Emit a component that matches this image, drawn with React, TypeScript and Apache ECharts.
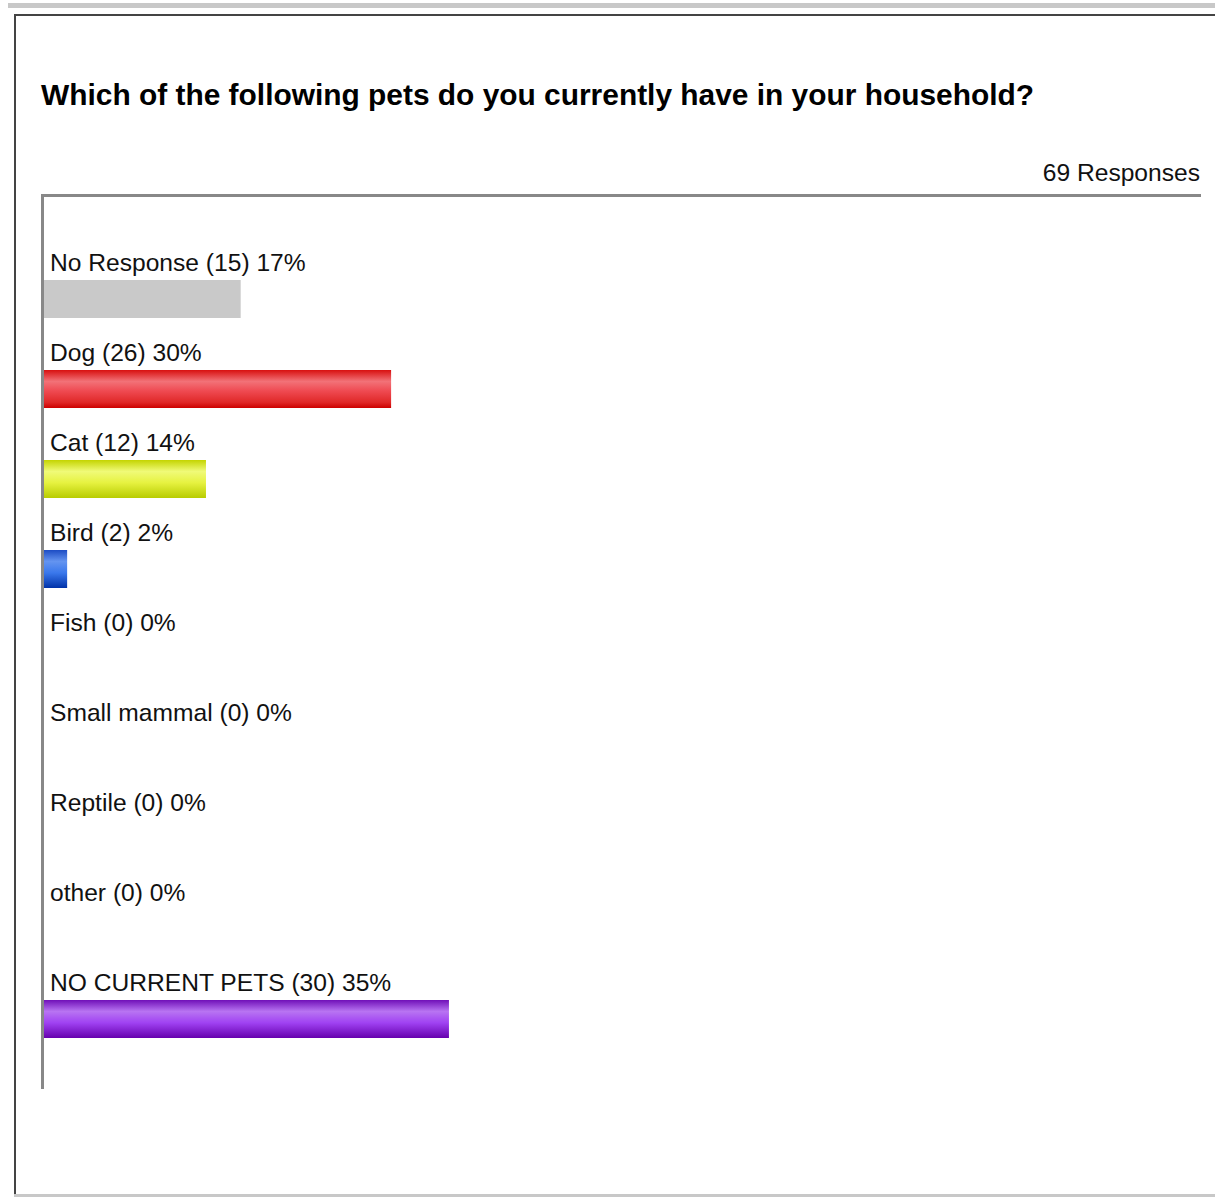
import React, { useEffect, useRef } from "react";
import * as echarts from "echarts";

const TITLE = "Which of the following pets do you currently have in your household?";
const RESPONSES = "69 Responses";
const categories = [
  "No Response",
  "Dog",
  "Cat",
  "Bird",
  "Fish",
  "Small mammal",
  "Reptile",
  "other",
  "NO CURRENT PETS",
];
const counts = [15, 26, 12, 2, 0, 0, 0, 0, 30];
const percents = [17, 30, 14, 2, 0, 0, 0, 0, 35];

const grad = (stops: [number, string][]) =>
  new echarts.graphic.LinearGradient(0, 0, 0, 1, stops.map(([offset, color]) => ({ offset, color })));

const barColors = [
  "#c9c9c9",
  grad([[0, "#d81010"], [0.3, "#f27278"], [0.55, "#ef4a52"], [0.85, "#e02828"], [1, "#cc0000"]]),
  grad([[0, "#c4d400"], [0.3, "#f0fa78"], [0.6, "#e6f240"], [1, "#b8cc00"]]),
  grad([[0, "#1c4cc4"], [0.3, "#6494f0"], [0.6, "#3a78ec"], [1, "#0032a8"]]),
  "#888888",
  "#888888",
  "#888888",
  "#888888",
  grad([[0, "#7010b8"], [0.3, "#b874f2"], [0.6, "#a042f2"], [1, "#6600ae"]]),
];

const FONT = "'Liberation Sans', Arial, sans-serif";

export default function App() {
  const ref = useRef<HTMLDivElement>(null);
  useEffect(() => {
    if (!ref.current) return;
    const chart = echarts.init(ref.current, null, { renderer: "svg" });
    chart.setOption({
      animation: false,
      backgroundColor: "#ffffff",
      grid: { left: 44, top: 254, width: 1157, height: 810, containLabel: false },
      xAxis: {
        type: "value",
        min: 0,
        max: 100,
        show: false,
      },
      yAxis: {
        type: "category",
        data: categories,
        inverse: true,
        axisLine: { show: false },
        axisTick: { show: false },
        axisLabel: { show: false },
        splitLine: { show: false },
      },
      series: [
        {
          type: "bar",
          barWidth: 38,
          data: percents.map((v, i) => ({ value: v, itemStyle: { color: barColors[i] } })),
          label: {
            show: true,
            position: [6, -18],
            align: "left",
            verticalAlign: "middle",
            fontFamily: FONT,
            fontSize: 24.6,
            color: "#111111",
            formatter: (p: any) => `${categories[p.dataIndex]} (${counts[p.dataIndex]}) ${percents[p.dataIndex]}%`,
          },
        },
      ],
      graphic: [
        { type: "rect", shape: { x: 8, y: 3, width: 1207, height: 5 }, style: { fill: "#c8c8c8" }, silent: true },
        { type: "line", shape: { x1: 14, y1: 15, x2: 1215, y2: 15 }, style: { stroke: "#444444", lineWidth: 2 } },
        { type: "line", shape: { x1: 15, y1: 14, x2: 15, y2: 1196 }, style: { stroke: "#444444", lineWidth: 2 } },
        { type: "line", shape: { x1: 14, y1: 1195.5, x2: 1215, y2: 1195.5 }, style: { stroke: "#c8c8c8", lineWidth: 3 } },
        {
          type: "text",
          x: 41,
          y: 94,
          style: { text: TITLE, font: `bold 29.9px ${FONT}`, fill: "#000000", align: "left", verticalAlign: "middle" },
        },
        {
          type: "text",
          x: 1200,
          y: 172,
          style: { text: RESPONSES, font: `24.6px ${FONT}`, fill: "#111111", align: "right", verticalAlign: "middle" },
        },
        { type: "line", shape: { x1: 41, y1: 195.5, x2: 1201, y2: 195.5 }, style: { stroke: "#888888", lineWidth: 3 } },
        { type: "line", shape: { x1: 42.5, y1: 194, x2: 42.5, y2: 1089 }, style: { stroke: "#888888", lineWidth: 3 } },
      ],
    });
    return () => chart.dispose();
  }, []);
  return (
    <div
      ref={ref}
      style={{ position: "absolute", left: 0, top: 0, width: 1215, height: 1200 }}
    />
  );
}
